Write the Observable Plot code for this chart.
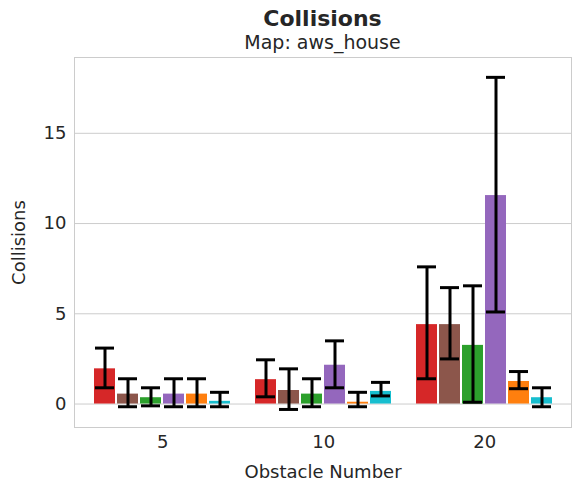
<!DOCTYPE html>
<html><head><meta charset="utf-8">
<script src="https://cdn.jsdelivr.net/npm/d3@7"></script>
<script src="https://cdn.jsdelivr.net/npm/@observablehq/plot@0.6"></script>
<style>
body{margin:0;background:#fff;font-family:"DejaVu Sans",sans-serif;color:#262626}
#head{height:54px;width:579px;position:relative}
#t{position:absolute;left:74px;width:497px;top:6px;text-align:center;font-weight:bold;font-size:22px;line-height:26px}
#s{position:absolute;left:74px;width:497px;top:31px;text-align:center;font-size:19px;line-height:22px}
#chart svg text{font-size:18px;fill:#262626}
</style></head><body>
<div id="head"><div id="t">Collisions</div><div id="s">Map: aws_house</div></div>
<div id="chart"></div>
<script>
const obstacles = [5, 10, 20];
const series = ["s1", "s2", "s3", "s4", "s5", "s6"];
const colors = ["#d62728", "#8c564b", "#2ca02c", "#9467bd", "#ff7f0e", "#17becf"];
const mean5  = [1.95, 0.55, 0.35, 0.55, 0.55, 0.15];
const lo5    = [0.9, -0.15, -0.1, -0.15, -0.15, -0.15];
const hi5    = [3.1, 1.4, 0.9, 1.4, 1.4, 0.65];
const mean10 = [1.35, 0.75, 0.55, 2.15, 0.1, 0.7];
const lo10   = [0.4, -0.3, -0.15, 0.9, -0.15, 0.45];
const hi10   = [2.45, 1.95, 1.4, 3.5, 0.65, 1.2];
const mean20 = [4.4, 4.4, 3.25, 11.55, 1.25, 0.35];
const lo20   = [1.4, 2.5, 0.1, 5.1, 0.85, -0.15];
const hi20   = [7.6, 6.45, 6.55, 18.1, 1.8, 0.9];

const means = [mean5, mean10, mean20], los = [lo5, lo10, lo20], his = [hi5, hi10, hi20];
const data = [];
const keys = [];
obstacles.forEach((o, i) => {
  if (i > 0) keys.push("gap" + i);
  series.forEach((s, j) => {
    keys.push(o + "|" + s);
    data.push({key: o + "|" + s, series: s, mean: means[i][j], lo: los[i][j], hi: his[i][j]});
  });
});

const chart = Plot.plot({
  width: 579, height: 438,
  marginTop: 3, marginBottom: 65, marginLeft: 74, marginRight: 8,
  style: {fontFamily: "DejaVu Sans, sans-serif"},
  x: {domain: keys, padding: 0.1, paddingOuter: 0.6},
  y: {domain: [-1.3, 19.2]},
  color: {domain: series, range: colors},
  marks: [
    Plot.gridY({ticks: [0, 5, 10, 15], stroke: "#ccc", strokeOpacity: 1}),
    Plot.frame({stroke: "#ccc"}),
    Plot.axisY({ticks: [0, 5, 10, 15], tickSize: 0, tickPadding: 8, label: "Collisions", labelAnchor: "center", labelArrow: "none", labelOffset: 62}),
    Plot.axisX({ticks: obstacles.map(o => o + "|s3"), tickFormat: k => k.split("|")[0], dx: 11.7, tickSize: 0, tickPadding: 8,
      label: "Obstacle Number", labelAnchor: "center", labelArrow: "none", labelOffset: 50}),
    Plot.barY(data, {x: "key", y: "mean", fill: "series"}),
    Plot.ruleX(data, {x: "key", y1: "lo", y2: "hi", stroke: "black", strokeWidth: 3}),
    Plot.tickY(data, {x: "key", y: "lo", stroke: "black", strokeWidth: 3, insetLeft: 1, insetRight: 1}),
    Plot.tickY(data, {x: "key", y: "hi", stroke: "black", strokeWidth: 3, insetLeft: 1, insetRight: 1})
  ]
});
document.getElementById("chart").append(chart);
</script></body></html>
